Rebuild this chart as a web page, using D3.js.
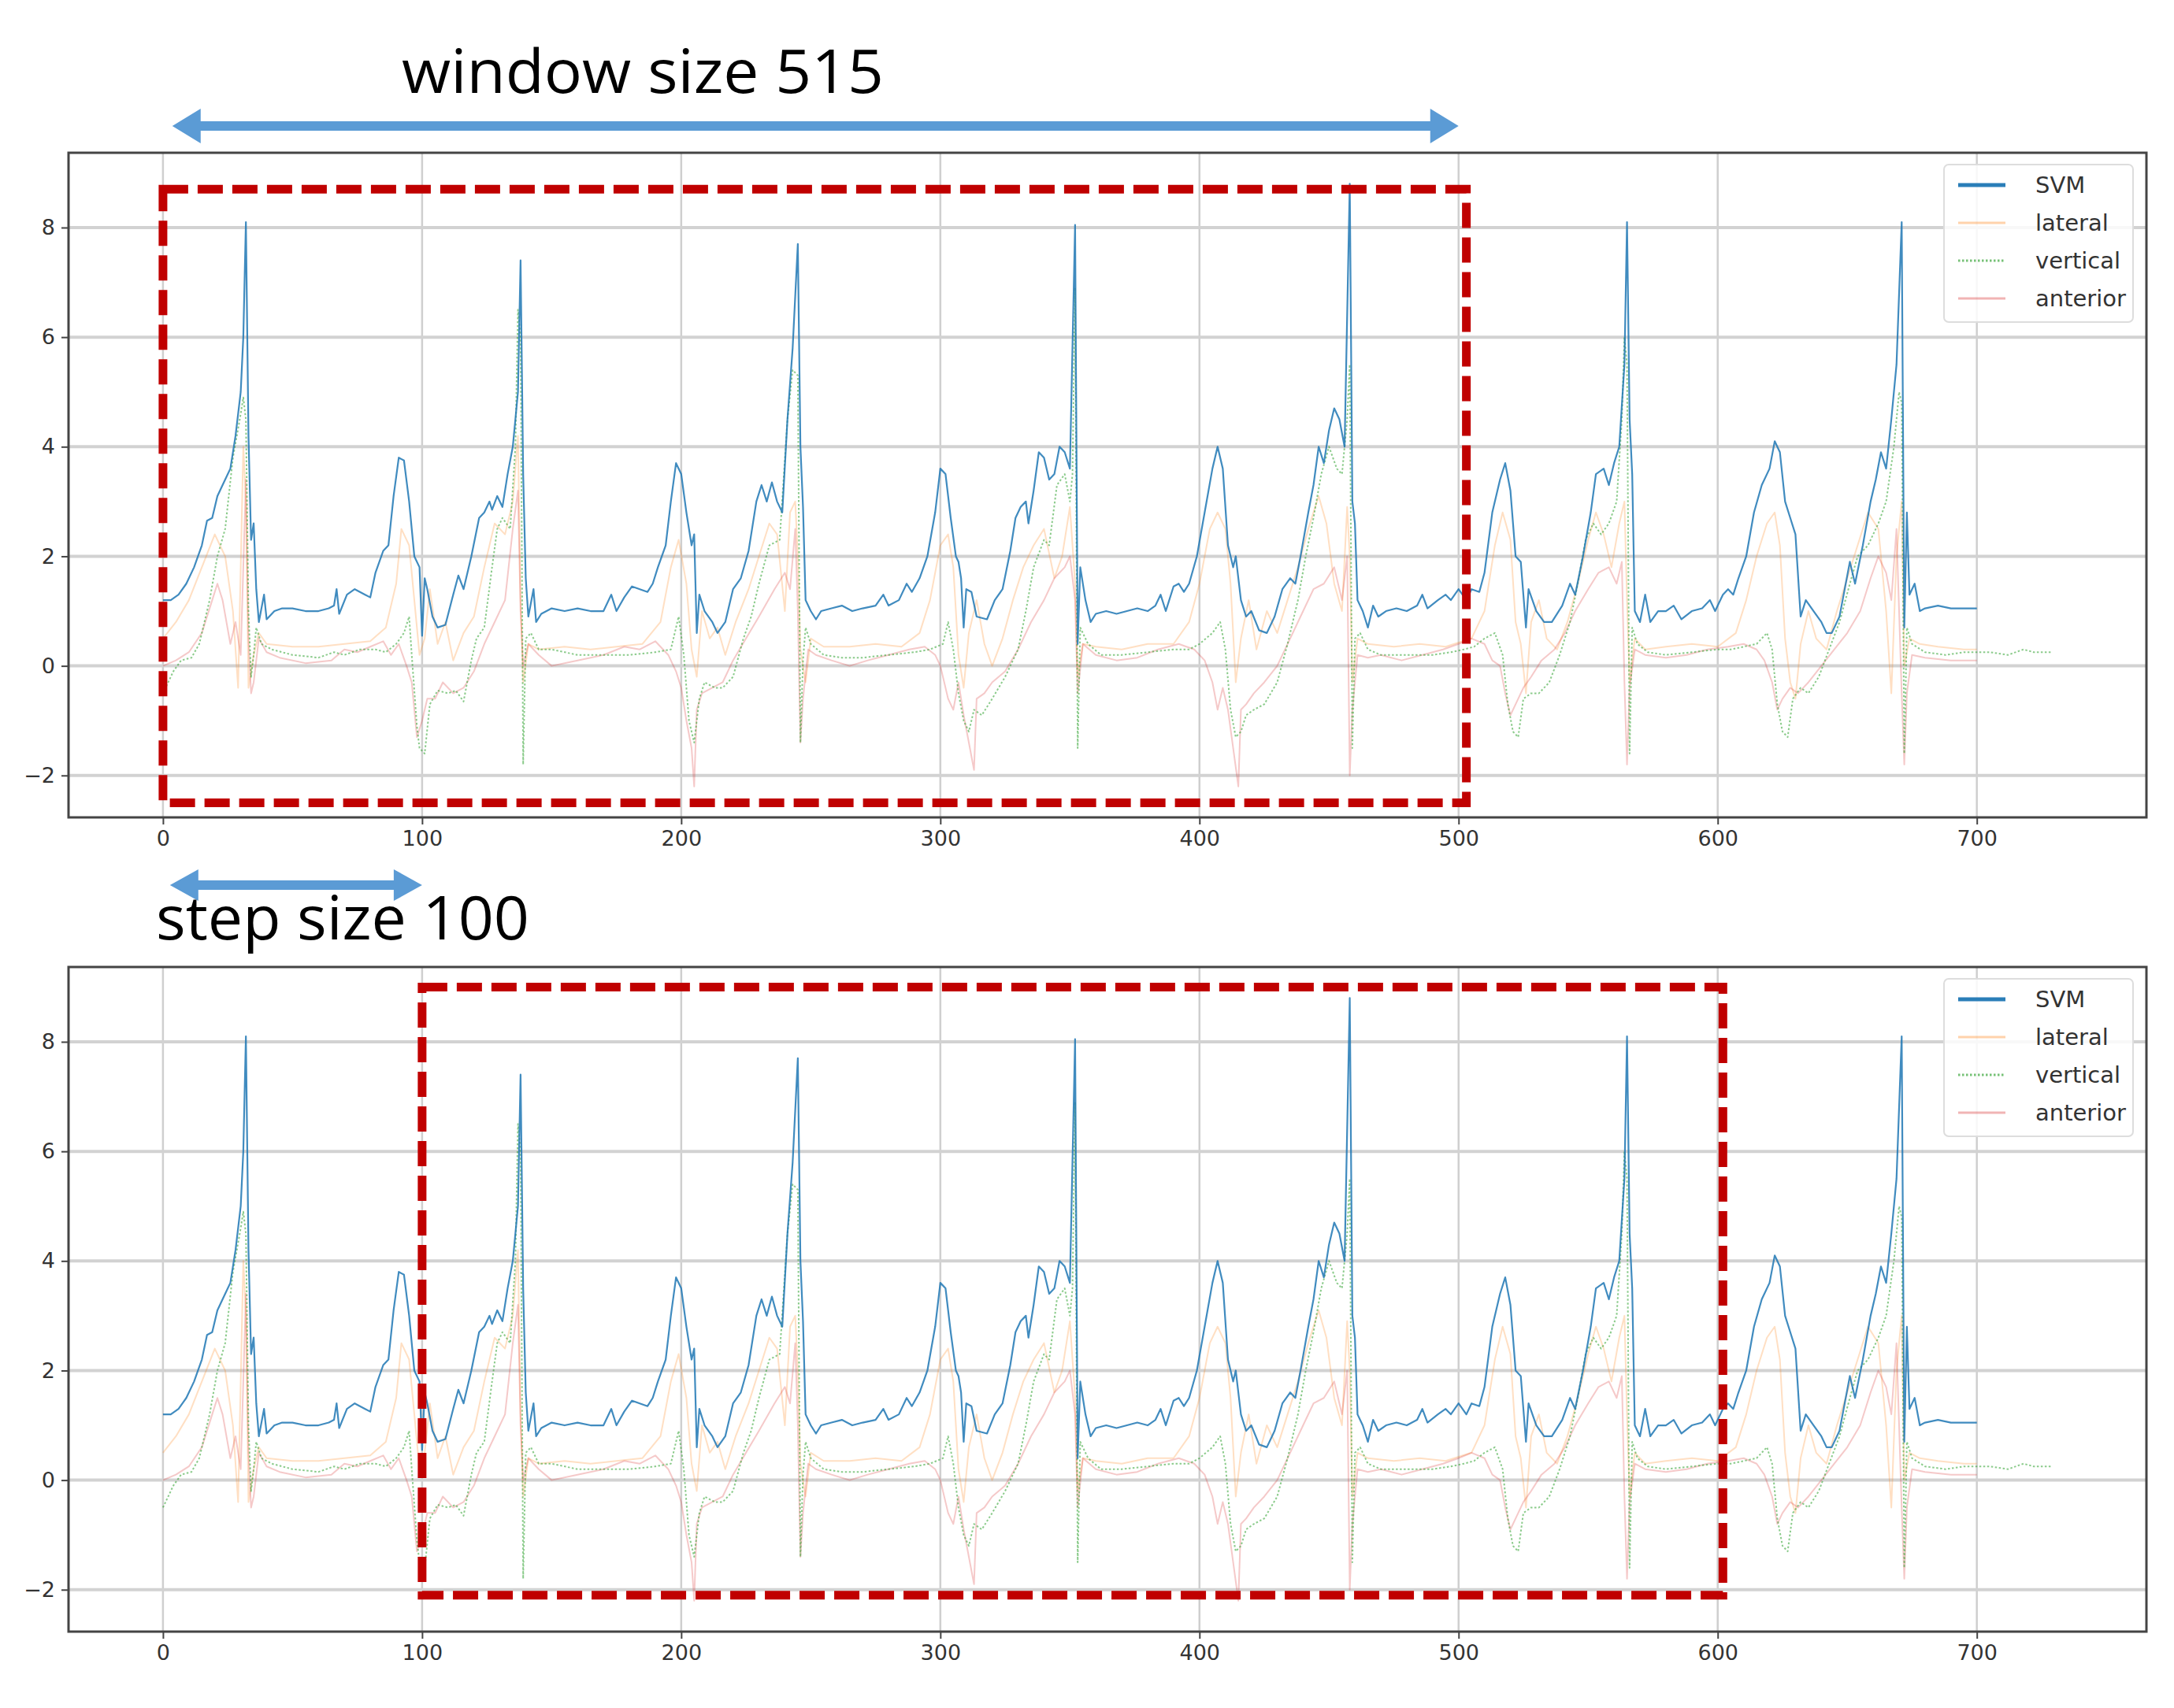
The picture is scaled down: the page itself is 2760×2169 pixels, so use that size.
<!DOCTYPE html>
<html><head><meta charset="utf-8">
<script src="https://cdn.jsdelivr.net/npm/d3@7"></script>
<style>body{margin:0;background:#fff}</style></head>
<body><svg id="c" width="2760" height="2169"></svg>
<script>
const svm=[[0,1.2],[3,1.2],[6,1.3],[9,1.5],[12,1.8],[15,2.2],[17,2.65],[19,2.7],[21,3.1],[24,3.4],[26,3.6],[28,4.2],[30,5.0],[31,6.0],[32,8.1],[33,4.2],[34,2.3],[35,2.6],[36,1.4],[37,0.8],[39,1.3],[40,0.85],[43,1.0],[46,1.05],[50,1.05],[55,1.0],[60,1.0],[64,1.05],[66,1.1],[67,1.4],[68,0.95],[71,1.3],[74,1.4],[78,1.3],[80,1.25],[82,1.7],[85,2.1],[87,2.2],[89,3.1],[91,3.8],[93,3.75],[95,3.0],[97,2.0],[99,1.8],[100,0.55],[101,1.6],[102,1.4],[104,0.9],[106,0.7],[109,0.75],[112,1.3],[114,1.65],[116,1.4],[119,2.0],[122,2.7],[124,2.8],[126,3.0],[127,2.85],[129,3.1],[131,2.9],[133,3.5],[135,4.0],[137,5.0],[138,7.4],[139,3.5],[140,1.6],[141,0.9],[143,1.4],[144,0.8],[146,0.95],[150,1.05],[155,1.0],[160,1.05],[165,1.0],[170,1.0],[173,1.3],[175,1.0],[178,1.25],[181,1.45],[184,1.4],[187,1.35],[189,1.5],[191,1.8],[194,2.2],[196,3.0],[198,3.7],[200,3.5],[202,2.8],[204,2.2],[205,2.4],[206,0.6],[207,1.3],[209,1.0],[212,0.8],[214,0.6],[217,0.8],[220,1.4],[223,1.6],[226,2.1],[229,3.0],[231,3.3],[233,3.0],[235,3.35],[237,3.0],[239,2.8],[241,4.5],[243,5.8],[245,7.7],[246,4.0],[247,2.9],[248,1.2],[250,1.0],[252,0.85],[254,1.0],[258,1.05],[262,1.1],[266,1.0],[270,1.05],[275,1.1],[278,1.3],[280,1.1],[284,1.2],[287,1.5],[289,1.35],[292,1.6],[295,2.0],[298,2.8],[300,3.6],[302,3.5],[304,2.7],[306,2.0],[307,1.9],[308,1.6],[309,0.7],[310,1.4],[312,1.35],[314,0.9],[318,0.85],[321,1.2],[324,1.4],[327,2.1],[329,2.7],[331,2.9],[333,3.0],[334,2.6],[336,3.2],[338,3.9],[340,3.8],[342,3.4],[344,3.5],[346,4.0],[348,3.9],[350,3.6],[352,8.05],[353,0.4],[354,1.8],[356,1.2],[358,0.8],[360,0.95],[364,1.0],[368,0.95],[372,1.0],[376,1.05],[380,1.0],[383,1.1],[385,1.3],[387,1.0],[390,1.45],[392,1.5],[394,1.35],[396,1.5],[399,2.0],[402,2.8],[405,3.6],[407,4.0],[409,3.6],[411,2.2],[413,1.8],[414,2.0],[416,1.2],[418,0.9],[420,1.0],[423,0.65],[426,0.6],[429,0.9],[432,1.4],[435,1.6],[437,1.5],[439,2.0],[442,2.8],[444,3.3],[446,4.0],[448,3.7],[450,4.3],[452,4.7],[454,4.5],[456,4.0],[458,8.8],[459,3.0],[460,2.6],[461,1.2],[463,1.0],[465,0.7],[467,1.1],[469,0.9],[472,1.0],[476,1.05],[480,1.0],[484,1.1],[486,1.3],[488,1.05],[492,1.2],[495,1.3],[497,1.2],[500,1.4],[503,1.2],[505,1.4],[508,1.35],[510,1.7],[513,2.8],[516,3.4],[518,3.7],[520,3.2],[522,2.0],[524,1.9],[526,0.7],[527,1.4],[530,1.0],[533,0.8],[536,0.8],[540,1.1],[543,1.5],[545,1.3],[548,2.0],[551,2.8],[553,3.5],[556,3.6],[558,3.3],[560,3.7],[562,4.0],[564,5.5],[565,8.1],[566,4.5],[567,3.5],[568,1.0],[570,0.8],[572,1.3],[574,0.8],[577,1.0],[580,1.0],[583,1.1],[586,0.85],[590,1.0],[594,1.05],[597,1.2],[599,1.0],[602,1.3],[604,1.4],[606,1.3],[608,1.6],[611,2.0],[614,2.8],[617,3.3],[620,3.6],[622,4.1],[624,3.9],[626,3.0],[628,2.7],[630,2.4],[632,0.9],[634,1.2],[637,1.0],[640,0.8],[642,0.6],[644,0.6],[647,0.9],[649,1.4],[651,1.9],[653,1.5],[656,2.2],[659,3.0],[661,3.4],[663,3.9],[665,3.6],[667,4.5],[669,5.5],[671,8.1],[672,0.7],[673,2.8],[674,1.3],[676,1.5],[678,1.0],[680,1.05],[685,1.1],[690,1.05],[695,1.05],[700,1.05]];
const lateral=[[0,0.5],[5,0.8],[10,1.2],[15,1.8],[20,2.4],[24,2.0],[27,1.0],[29,-0.4],[31,4.0],[32,3.0],[33,-0.4],[35,0.2],[37,0.6],[40,0.4],[50,0.35],[60,0.35],[70,0.4],[80,0.45],[86,0.7],[90,1.5],[92,2.5],[95,2.2],[97,1.2],[99,0.2],[101,0.5],[103,1.4],[106,0.4],[109,0.8],[112,0.1],[116,0.6],[120,0.9],[124,1.8],[128,2.6],[132,2.4],[135,3.0],[137,4.2],[138,1.2],[139,-0.3],[141,0.4],[145,0.3],[155,0.35],[165,0.3],[175,0.35],[185,0.4],[192,0.8],[196,1.8],[199,2.3],[202,1.5],[204,0.3],[206,-0.2],[208,1.0],[211,0.5],[214,0.7],[217,0.2],[221,0.8],[226,1.4],[230,2.0],[234,2.6],[237,2.4],[240,1.0],[242,2.8],[244,3.0],[245,2.0],[246,0.3],[248,-0.3],[250,0.5],[255,0.35],[265,0.35],[275,0.4],[285,0.35],[292,0.6],[296,1.2],[300,2.2],[303,2.4],[305,1.8],[307,0.2],[309,-0.4],[311,0.6],[314,1.2],[317,0.4],[320,0.0],[324,0.5],[328,1.2],[332,1.8],[336,2.2],[340,2.5],[344,1.6],[347,2.0],[350,2.9],[352,1.5],[353,-0.2],[355,0.4],[360,0.35],[370,0.3],[380,0.4],[390,0.4],[396,0.8],[400,1.5],[404,2.5],[407,2.8],[410,2.5],[412,1.5],[414,-0.3],[416,0.5],[419,1.2],[422,0.3],[426,1.0],[430,0.6],[434,1.2],[438,1.8],[442,2.5],[446,3.1],[449,2.6],[452,1.5],[455,1.0],[457,2.9],[458,2.0],[459,-0.3],[461,0.5],[465,0.4],[475,0.35],[485,0.4],[495,0.35],[505,0.5],[510,1.0],[514,2.2],[517,2.8],[520,2.3],[522,0.8],[524,0.4],[526,-0.5],[528,0.8],[531,1.2],[534,0.5],[538,0.3],[542,0.8],[546,1.5],[550,2.3],[553,2.8],[556,2.4],[559,1.8],[562,2.6],[564,3.0],[565,1.2],[566,-0.3],[568,0.5],[572,0.3],[580,0.35],[590,0.4],[600,0.35],[607,0.6],[611,1.2],[615,2.0],[619,2.6],[622,2.8],[624,2.2],[626,0.5],[628,-0.3],[630,-0.6],[632,0.4],[635,1.0],[638,0.5],[642,0.3],[646,1.0],[650,1.6],[654,2.2],[658,2.8],[662,2.5],[665,1.0],[667,-0.5],[669,2.0],[671,3.0],[672,0.0],[674,0.5],[678,0.4],[685,0.35],[695,0.3],[700,0.3]];
const vertical=[[0,-0.5],[4,-0.1],[7,0.1],[11,0.15],[14,0.4],[18,1.2],[21,2.0],[24,2.5],[27,3.8],[30,4.6],[31,4.9],[32,4.5],[33,1.0],[34,-0.2],[35,0.2],[36,0.7],[38,0.4],[42,0.3],[50,0.2],[60,0.15],[66,0.25],[70,0.2],[76,0.3],[82,0.3],[86,0.25],[90,0.4],[93,0.6],[95,0.9],[96,0.2],[98,-1.1],[99,-1.5],[101,-1.6],[103,-0.7],[106,-0.45],[110,-0.5],[113,-0.45],[116,-0.65],[119,0.1],[121,0.5],[124,0.7],[127,1.8],[129,2.5],[131,2.7],[134,2.5],[136,4.0],[137,6.5],[138,6.0],[139,-1.8],[140,0.5],[142,0.6],[145,0.3],[150,0.3],[160,0.2],[170,0.2],[180,0.2],[190,0.25],[196,0.3],[199,0.9],[201,0.2],[203,-1.0],[205,-1.4],[207,-0.6],[209,-0.3],[213,-0.4],[216,-0.4],[220,-0.2],[224,0.5],[227,0.9],[230,1.5],[234,2.2],[238,2.3],[241,4.5],[243,5.4],[245,5.3],[246,-1.4],[247,0.1],[248,0.7],[250,0.4],[255,0.2],[262,0.15],[270,0.15],[280,0.2],[290,0.25],[296,0.3],[301,0.4],[303,0.8],[305,0.3],[307,-0.5],[309,-1.0],[311,-1.2],[313,-0.8],[316,-0.9],[320,-0.6],[325,-0.2],[330,0.3],[333,1.0],[336,1.8],[340,2.3],[342,2.2],[345,3.3],[348,3.5],[350,3.0],[351,3.5],[352,6.9],[353,-1.5],[354,0.7],[357,0.4],[362,0.2],[370,0.2],[380,0.25],[390,0.3],[396,0.3],[400,0.4],[405,0.6],[408,0.8],[410,0.3],[412,-0.8],[414,-1.3],[416,-1.2],[418,-0.9],[421,-0.8],[425,-0.7],[430,-0.3],[434,0.4],[438,1.2],[441,2.0],[444,2.7],[447,3.5],[450,4.0],[453,3.6],[455,3.5],[457,4.5],[458,5.5],[459,-1.5],[460,0.5],[462,0.6],[465,0.3],[470,0.2],[480,0.2],[490,0.2],[497,0.25],[502,0.3],[506,0.35],[510,0.5],[514,0.6],[517,0.2],[519,-0.7],[521,-1.2],[523,-1.3],[525,-0.6],[528,-0.5],[531,-0.5],[535,-0.3],[539,0.2],[543,0.8],[546,1.5],[549,2.3],[552,2.6],[555,2.4],[558,2.6],[561,3.0],[563,4.5],[564,6.0],[565,5.5],[566,-1.6],[567,0.7],[569,0.4],[573,0.25],[580,0.2],[590,0.25],[600,0.3],[605,0.3],[610,0.35],[615,0.4],[619,0.6],[621,0.3],[623,-0.7],[625,-1.2],[627,-1.3],[629,-0.6],[632,-0.4],[635,-0.5],[639,-0.2],[643,0.3],[647,0.8],[651,1.5],[654,2.0],[658,2.2],[662,2.6],[665,3.0],[668,4.0],[670,5.0],[671,4.8],[672,-1.6],[673,0.7],[675,0.4],[680,0.25],[688,0.2],[695,0.25],[705,0.25],[712,0.2],[718,0.3],[722,0.25],[729,0.25]];
const anterior=[[0,0.0],[5,0.1],[10,0.25],[15,0.6],[19,1.2],[21,1.5],[23,1.2],[26,0.4],[28,0.8],[30,0.2],[32,3.4],[33,0.5],[34,-0.5],[35,-0.3],[37,0.5],[40,0.25],[45,0.15],[55,0.05],[65,0.1],[70,0.3],[75,0.25],[80,0.35],[85,0.45],[88,0.2],[91,0.4],[94,0.0],[96,-0.3],[98,-1.3],[100,-1.0],[102,-0.6],[105,-0.6],[108,-0.3],[112,-0.5],[116,-0.4],[120,-0.1],[124,0.4],[128,0.8],[132,1.2],[135,2.5],[137,3.2],[138,1.0],[139,0.0],[141,0.4],[145,0.2],[150,0.0],[160,0.1],[170,0.2],[178,0.35],[184,0.3],[190,0.45],[195,0.2],[198,-0.1],[200,-0.4],[202,-1.0],[204,-1.5],[205,-2.2],[206,-0.8],[208,-0.5],[212,-0.4],[216,-0.3],[220,0.1],[225,0.5],[230,0.9],[236,1.4],[240,1.7],[242,1.4],[244,2.5],[245,1.0],[246,-1.4],[247,-0.6],[249,0.3],[252,0.2],[258,0.1],[265,0.0],[272,0.1],[280,0.2],[288,0.3],[294,0.35],[298,0.2],[300,0.0],[303,-0.6],[305,-0.8],[307,-0.3],[309,-0.9],[311,-1.4],[313,-1.9],[314,-0.6],[317,-0.5],[320,-0.3],[325,-0.1],[330,0.3],[335,0.8],[340,1.2],[344,1.6],[348,1.8],[350,2.0],[352,1.2],[353,-0.5],[355,0.4],[360,0.2],[368,0.1],[376,0.15],[384,0.3],[392,0.4],[398,0.3],[402,0.1],[405,-0.3],[407,-0.8],[409,-0.4],[411,-0.8],[413,-1.5],[415,-2.2],[416,-0.8],[418,-0.7],[421,-0.5],[425,-0.3],[430,0.0],[435,0.5],[440,1.0],[444,1.4],[448,1.5],[452,1.8],[455,1.2],[457,2.0],[458,-2.0],[459,-0.8],[461,0.2],[465,0.15],[470,0.2],[478,0.1],[486,0.2],[494,0.3],[500,0.4],[505,0.5],[510,0.4],[513,0.1],[516,0.0],[518,-0.5],[520,-0.9],[522,-0.7],[525,-0.4],[528,-0.2],[532,0.1],[537,0.3],[541,0.6],[545,1.0],[550,1.4],[554,1.7],[558,1.8],[561,1.5],[563,1.9],[564,-0.3],[565,-1.8],[566,-0.4],[568,0.3],[572,0.2],[580,0.15],[588,0.2],[596,0.3],[604,0.35],[610,0.4],[615,0.3],[618,0.1],[621,-0.3],[623,-0.8],[625,-0.6],[628,-0.4],[631,-0.5],[635,-0.3],[640,0.0],[645,0.3],[650,0.6],[655,1.0],[659,1.6],[662,2.0],[665,1.7],[667,1.2],[669,2.5],[671,-0.5],[672,-1.8],[673,-0.5],[675,0.2],[680,0.15],[690,0.1],[700,0.1]];

const xTicks=[0,100,200,300,400,500,600,700];
const yTicks=[-2,0,2,4,6,8];
const seriesNames=["SVM","lateral","vertical","anterior"];
// window boxes [x0,x1,yTop,yBottom]
const windows=[[0,503,8.7,-2.5],[100,602,9.0,-2.1]];
const arrowSpans=[[3.6,500],[2.7,100]];
const labels=["window size 515","step size 100"];

const svg=d3.select("#c");
const L=87,R=2725;
const panels=[{top:194,bottom:1038},{top:1228,bottom:2072}];
const x=d3.scaleLinear().domain([-36.45,765.45]).range([L,R]);
const styles=[
 {d:svm,stroke:"#1f77b4",op:0.85,w:2.2,dash:null},
 {d:lateral,stroke:"#ff7f0e",op:0.25,w:2,dash:null},
 {d:vertical,stroke:"#2ca02c",op:0.55,w:2,dash:"2.5,2.5"},
 {d:anterior,stroke:"#d62728",op:0.25,w:2,dash:null}];

panels.forEach((p,pi)=>{
  const y=d3.scaleLinear().domain([-2.765,9.365]).range([p.bottom,p.top]);
  const g=svg.append("g");
  xTicks.forEach(t=>g.append("line").attr("x1",x(t)).attr("x2",x(t)).attr("y1",p.top).attr("y2",p.bottom).attr("stroke","#cfcfcf").attr("stroke-width",2.5));
  yTicks.forEach(t=>g.append("line").attr("x1",L).attr("x2",R).attr("y1",y(t)).attr("y2",y(t)).attr("stroke","#d2d2d2").attr("stroke-width",4));
  const line=d3.line().x(d=>x(d[0])).y(d=>y(d[1]));
  [1,3,2,0].forEach(i=>{const s=styles[i];
    g.append("path").attr("d",line(s.d)).attr("fill","none").attr("stroke",s.stroke).attr("stroke-opacity",s.op).attr("stroke-width",s.w).attr("stroke-dasharray",s.dash).attr("stroke-linejoin","round");});
  g.append("rect").attr("x",L).attr("y",p.top).attr("width",R-L).attr("height",p.bottom-p.top).attr("fill","none").attr("stroke","#444").attr("stroke-width",3);
  const ax=g.append("g").attr("transform",`translate(0,${p.bottom})`).call(d3.axisBottom(x).tickValues(xTicks).tickSize(9).tickPadding(8).tickFormat(d3.format("d")));
  const ay=g.append("g").attr("transform",`translate(${L},0)`).call(d3.axisLeft(y).tickValues(yTicks).tickSize(9).tickPadding(8).tickFormat(d=>d<0?"\u2212"+(-d):d));
  [ax,ay].forEach(a=>{a.select(".domain").remove();a.selectAll("line").attr("stroke","#444").attr("stroke-width",2);
    a.selectAll("text").attr("font-family","DejaVu Sans").attr("font-size",27).attr("fill","#333");});
  // window box
  const w=windows[pi];
  g.append("rect").attr("x",x(w[0])).attr("y",y(w[2])).attr("width",x(w[1])-x(w[0])).attr("height",y(w[3])-y(w[2]))
   .attr("fill","none").attr("stroke","#c00000").attr("stroke-width",11).attr("stroke-dasharray","32,12");
  // legend
  const lx=2468,ly=p.top+15;
  g.append("rect").attr("x",lx).attr("y",ly).attr("width",240).attr("height",200).attr("rx",6).attr("fill","#fff").attr("fill-opacity",0.85).attr("stroke","#ddd").attr("stroke-width",2);
  seriesNames.forEach((n,i)=>{const s=styles[i],yy=ly+26+i*48;
    g.append("line").attr("x1",lx+18).attr("x2",lx+78).attr("y1",yy).attr("y2",yy).attr("stroke",s.stroke).attr("stroke-opacity",Math.min(1,s.op+0.1)).attr("stroke-width",i==0?5:3).attr("stroke-dasharray",s.dash);
    g.append("text").attr("x",lx+116).attr("y",yy+10).text(n).attr("font-family","DejaVu Sans").attr("font-size",29).attr("fill","#333");});
});

// annotation arrows and labels
const arrowY=[160,1124];
const defs=svg.append("defs");
arrowSpans.forEach((a,i)=>{
  const x0=x(a[0]),x1=x(a[1]),yy=arrowY[i],h=i==0?22:20,len=36;
  svg.append("path").attr("d",`M${x0},${yy} L${x0+len},${yy-h} L${x0+len},${yy-6} L${x1-len},${yy-6} L${x1-len},${yy-h} L${x1},${yy} L${x1-len},${yy+h} L${x1-len},${yy+6} L${x0+len},${yy+6} L${x0+len},${yy+h} Z`).attr("fill","#5b9bd5");
});
svg.append("text").attr("x",510).attr("y",118).text(labels[0]).attr("font-family","Open Sans").attr("font-size",76).attr("textLength",612).attr("lengthAdjust","spacingAndGlyphs").attr("fill","#000");
svg.append("text").attr("x",198).attr("y",1193).text(labels[1]).attr("font-family","Open Sans").attr("font-size",76).attr("textLength",474).attr("lengthAdjust","spacingAndGlyphs").attr("fill","#000");
</script></body></html>
